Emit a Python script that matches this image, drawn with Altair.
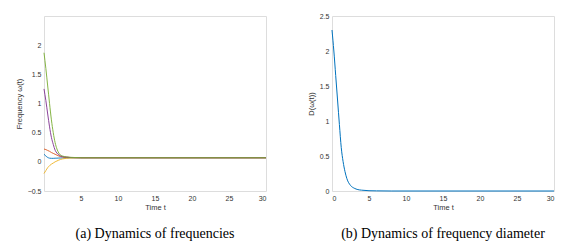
import altair as alt
import pandas as pd

t = [0, 0.25, 0.5, 0.75, 1, 1.25, 1.5, 1.75, 2, 2.5, 3, 3.5, 4, 5, 6, 8, 10, 15, 20, 25, 30]
blue   = [0.13, 0.10, 0.075, 0.063, 0.060, 0.060, 0.062, 0.063, 0.065, 0.067, 0.068, 0.069, 0.069, 0.07, 0.07, 0.07, 0.07, 0.07, 0.07, 0.07, 0.07]
red    = [0.22, 0.21, 0.195, 0.18, 0.16, 0.145, 0.13, 0.115, 0.10, 0.085, 0.078, 0.075, 0.072, 0.07, 0.07, 0.07, 0.07, 0.07, 0.07, 0.07, 0.07]
yellow = [-0.20, -0.15, -0.10, -0.065, -0.04, -0.02, 0.0, 0.015, 0.03, 0.05, 0.06, 0.064, 0.067, 0.07, 0.07, 0.07, 0.07, 0.07, 0.07, 0.07, 0.07]
purple = [1.25, 1.05, 0.82, 0.60, 0.42, 0.30, 0.20, 0.15, 0.12, 0.09, 0.08, 0.075, 0.072, 0.07, 0.07, 0.07, 0.07, 0.07, 0.07, 0.07, 0.07]
green  = [1.87, 1.60, 1.30, 1.00, 0.72, 0.50, 0.33, 0.22, 0.15, 0.10, 0.085, 0.078, 0.075, 0.07, 0.07, 0.07, 0.07, 0.07, 0.07, 0.07, 0.07]
diam   = [2.30, 2.00, 1.65, 1.30, 0.95, 0.62, 0.42, 0.28, 0.18, 0.08, 0.04, 0.02, 0.012, 0.004, 0.002, 0.0, 0.0, 0.0, 0.0, 0.0, 0.0]

series_names = ["1", "2", "3", "4", "5"]
series_vals = [blue, red, yellow, purple, green]
colors = ["#0072BD", "#D95319", "#EDB120", "#7E2F8E", "#77AC30"]

rows = []
for name, vals in zip(series_names, series_vals):
    for ti, v in zip(t, vals):
        rows.append({"t": ti, "w": v, "s": name})
df_a = pd.DataFrame(rows)
df_b = pd.DataFrame({"t": t, "D": diam})

axis_common = dict(labelFont="Liberation Sans", labelFontSize=7, labelColor="#333333",
                   titleFont="Liberation Sans", titleFontSize=7.5, titleFontWeight="normal",
                   titleColor="#333333", domain=False, grid=False, ticks=False, labelPadding=3,
                   format="~g")

W, H = 222, 175

left = alt.Chart(df_a).mark_line(strokeWidth=0.9, interpolate="monotone").encode(
    x=alt.X("t:Q", scale=alt.Scale(domain=[0, 30], nice=False),
            axis=alt.Axis(title="Time t", values=[5, 10, 15, 20, 25, 30], titlePadding=2, **axis_common)),
    y=alt.Y("w:Q", scale=alt.Scale(domain=[-0.5, 2.5], nice=False),
            axis=alt.Axis(title="Frequency ω(t)", values=[-0.5, 0, 0.5, 1, 1.5, 2], titlePadding=4, **axis_common)),
    color=alt.Color("s:N", scale=alt.Scale(domain=series_names, range=colors), legend=None),
).properties(width=W, height=H,
             title=alt.TitleParams("(a)  Dynamics of frequencies", orient="bottom", font="Liberation Serif",
                                   fontSize=14, fontWeight="normal", color="#000000", offset=16))

right = alt.Chart(df_b).mark_line(strokeWidth=1, color="#0072BD", interpolate="monotone").encode(
    x=alt.X("t:Q", scale=alt.Scale(domain=[0, 30], nice=False),
            axis=alt.Axis(title="Time t", values=[0, 5, 10, 15, 20, 25, 30], titlePadding=2, **axis_common)),
    y=alt.Y("D:Q", scale=alt.Scale(domain=[0, 2.5], nice=False),
            axis=alt.Axis(title="D(ω(t))", values=[0, 0.5, 1, 1.5, 2, 2.5], titlePadding=4, **axis_common)),
).properties(width=W, height=H,
             title=alt.TitleParams("(b)  Dynamics of frequency diameter", orient="bottom", font="Liberation Serif",
                                   fontSize=14, fontWeight="normal", color="#000000", offset=16))

chart = alt.hconcat(left, right, spacing=37).properties(
    padding={"left": 6, "top": 3, "right": 0, "bottom": 0}
).configure_view(stroke="#b5b5b5", strokeWidth=0.8).configure(background="white")

chart.save("out.html", embed_options={"renderer": "svg", "actions": False})
